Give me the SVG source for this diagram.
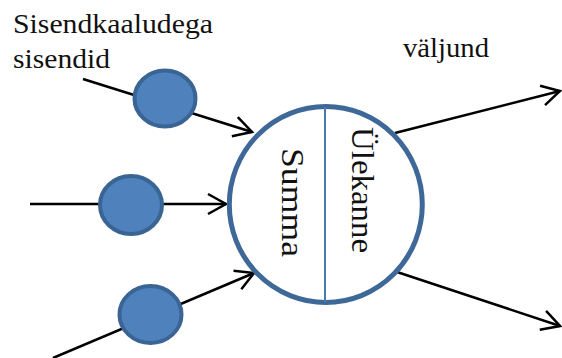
<svg xmlns="http://www.w3.org/2000/svg" width="562" height="358" viewBox="0 0 562 358">
  <style>
    .lbl { font-family: "Liberation Serif", "Times New Roman", serif; fill: #111; }
    .conn { stroke: #000; stroke-width: 2.5; fill: none; marker-end: url(#arrow); }
    .plain { stroke: #000; stroke-width: 2.5; fill: none; }
    .weight { fill: #4f81bd; stroke: #3a6494; stroke-width: 4; }
  </style>
  <defs>
    <marker id="arrow" markerUnits="userSpaceOnUse" markerWidth="26" markerHeight="26" viewBox="0 0 26 26" refX="21" refY="13" orient="auto">
      <path d="M3,3 L21,13 L3,23" fill="none" stroke="#000" stroke-width="2.5" stroke-linejoin="miter"/>
    </marker>
  </defs>
  <rect width="562" height="358" fill="#fff"/>

  <g id="connectors">
    <line class="conn" x1="83" y1="79" x2="252" y2="132"/>
    <line class="conn" x1="30" y1="204" x2="226" y2="204"/>
    <line class="conn" x1="53" y1="358" x2="254" y2="273"/>
    <line class="conn" x1="395" y1="133" x2="560" y2="91"/>
    <line class="conn" x1="397" y1="272" x2="560" y2="326"/>
  </g>

  <g id="weight1">
    <ellipse class="weight" cx="165" cy="98.5" rx="30.5" ry="28"/>
  </g>
  <g id="weight2">
    <ellipse class="weight" cx="131" cy="205" rx="31" ry="29"/>
  </g>
  <g id="weight3">
    <ellipse class="weight" cx="150.5" cy="314.5" rx="31" ry="28.5"/>
  </g>

  <g id="neuron">
    <ellipse cx="325.8" cy="204.5" rx="96.5" ry="98" fill="#fff" stroke="#3e6898" stroke-width="5"/>
    <line x1="325" y1="107" x2="325" y2="302" stroke="#4a78b0" stroke-width="2"/>
    <text class="lbl" font-size="32" transform="translate(282,148) rotate(90)" textLength="109" lengthAdjust="spacingAndGlyphs">Summa</text>
    <text class="lbl" font-size="32" transform="translate(352,127) rotate(90)" textLength="126" lengthAdjust="spacingAndGlyphs">Ülekanne</text>
  </g>

  <g id="input-label">
    <text class="lbl" x="13" y="33" font-size="27" textLength="200" lengthAdjust="spacingAndGlyphs">Sisendkaaludega</text>
    <text class="lbl" x="13" y="68" font-size="27" textLength="97" lengthAdjust="spacingAndGlyphs">sisendid</text>
  </g>
  <g id="output-label">
    <text class="lbl" x="403" y="57" font-size="27" textLength="86" lengthAdjust="spacingAndGlyphs">väljund</text>
  </g>
</svg>
